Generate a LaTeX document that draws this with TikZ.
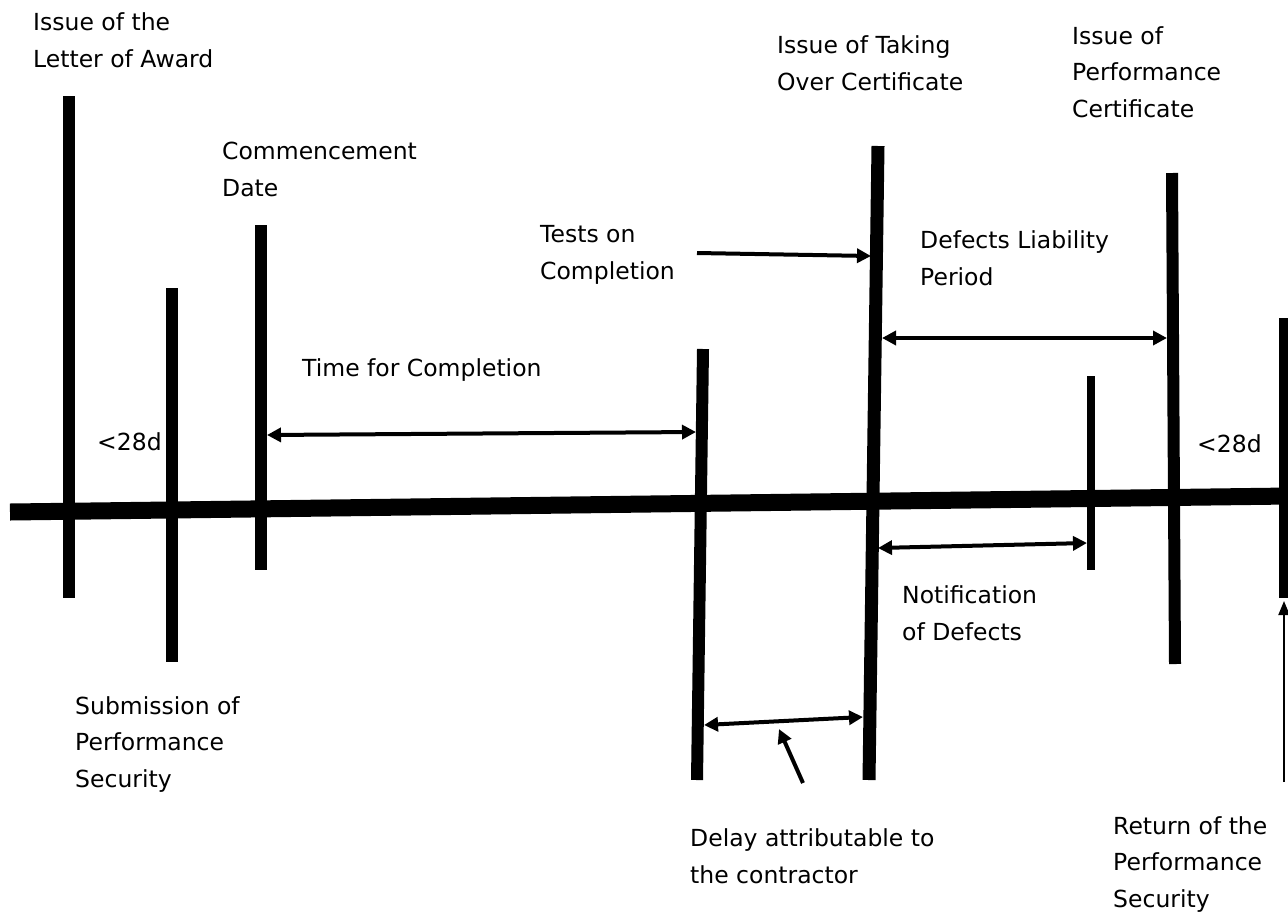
\documentclass[tikz,border=0pt]{standalone}
\usepackage{fontspec}
\setmainfont{DejaVu Sans}
\usetikzlibrary{arrows.meta}
\begin{document}
\begin{tikzpicture}[x=1pt,y=-1pt,
  lbl/.style={anchor=base west,inner sep=0pt,align=left,font=\fontsize{23.5}{36.5}\selectfont},
  bar/.style={line width=12pt,line cap=butt},
  axisline/.style={line width=17pt,line cap=butt},
  dbl/.style={line width=4pt,{Triangle[length=14pt,width=14pt]}-{Triangle[length=14pt,width=14pt]}},
  sgl/.style={line width=4pt,-{Triangle[length=14pt,width=14pt]}},
  thinarrow/.style={line width=2pt,-{Triangle[length=14pt,width=11pt]}}]
\useasboundingbox (0,0) rectangle (1288,911);
% main time axis
\coordinate (axA) at (10,512);
\coordinate (axB) at (1290,496);
\draw[axisline] (axA) -- (axB);
% event bars
\coordinate (loaT) at (69,96);   \coordinate (loaB) at (69,598);
\coordinate (subT) at (172,288); \coordinate (subB) at (172,662);
\coordinate (comT) at (261,225); \coordinate (comB) at (261,570);
\coordinate (tstT) at (703,349); \coordinate (tstB) at (697,780);
\coordinate (tocT) at (878,146); \coordinate (tocB) at (869,780);
\coordinate (notT) at (1091,376);\coordinate (notB) at (1091,570);
\coordinate (pcT) at (1172,173); \coordinate (pcB) at (1175,664);
\coordinate (retT) at (1284,318);\coordinate (retB) at (1284,598);
\draw[bar] (loaT) -- (loaB);
\draw[bar] (subT) -- (subB);
\draw[bar] (comT) -- (comB);
\draw[bar] (tstT) -- (tstB);
\draw[bar,line width=13pt] (tocT) -- (tocB);
\draw[bar,line width=8pt] (notT) -- (notB);
\draw[bar] (pcT) -- (pcB);
\draw[bar,line width=10pt] (retT) -- (retB);
% arrows
\coordinate (tfcL) at (267,435);  \coordinate (tfcR) at (696,432);
\coordinate (tocA) at (697,253);  \coordinate (tocP) at (871,256);
\coordinate (dlpL) at (882,338);  \coordinate (dlpR) at (1167,338);
\coordinate (ndL) at (878,548);   \coordinate (ndR) at (1087,543);
\coordinate (dlyL) at (704,725);  \coordinate (dlyR) at (863,717);
\coordinate (ptrS) at (803,783);  \coordinate (ptrE) at (779,729);
\coordinate (rpsS) at (1284,782); \coordinate (rpsE) at (1284,601);
\draw[dbl] (tfcL) -- (tfcR);
\draw[sgl] (tocA) -- (tocP);
\draw[dbl] (dlpL) -- (dlpR);
\draw[dbl] (ndL) -- (ndR);
\draw[dbl] (dlyL) -- (dlyR);
\draw[sgl] (ptrS) -- (ptrE);
\draw[thinarrow] (rpsS) -- (rpsE);
% labels (anchor = baseline of the last line)
\node[lbl] (lLoa) at (33,67) {Issue of the\\Letter of Award};
\node[lbl] (lCom) at (222,196) {Commencement\\Date};
\node[lbl] (lTst) at (540,279) {Tests on\\Completion};
\node[lbl] (lToc) at (777,90) {Issue of Taking\\Over Certificate};
\node[lbl] (lPc) at (1072,117) {Issue of\\Performance\\Certificate};
\node[lbl] (lDlp) at (920,285) {Defects Liability\\Period};
\node[lbl] (lTfc) at (302,376) {Time for Completion};
\node[lbl] (l28a) at (97,450) {<28d};
\node[lbl] (l28b) at (1197,452) {<28d};
\node[lbl] (lSub) at (75,787) {Submission of\\Performance\\Security};
\node[lbl] (lNd) at (902,640) {Notification\\of Defects};
\node[lbl] (lDly) at (690,883) {Delay attributable to\\the contractor};
\node[lbl] (lRet) at (1113,907) {Return of the\\Performance\\Security};
\end{tikzpicture}
\end{document}
